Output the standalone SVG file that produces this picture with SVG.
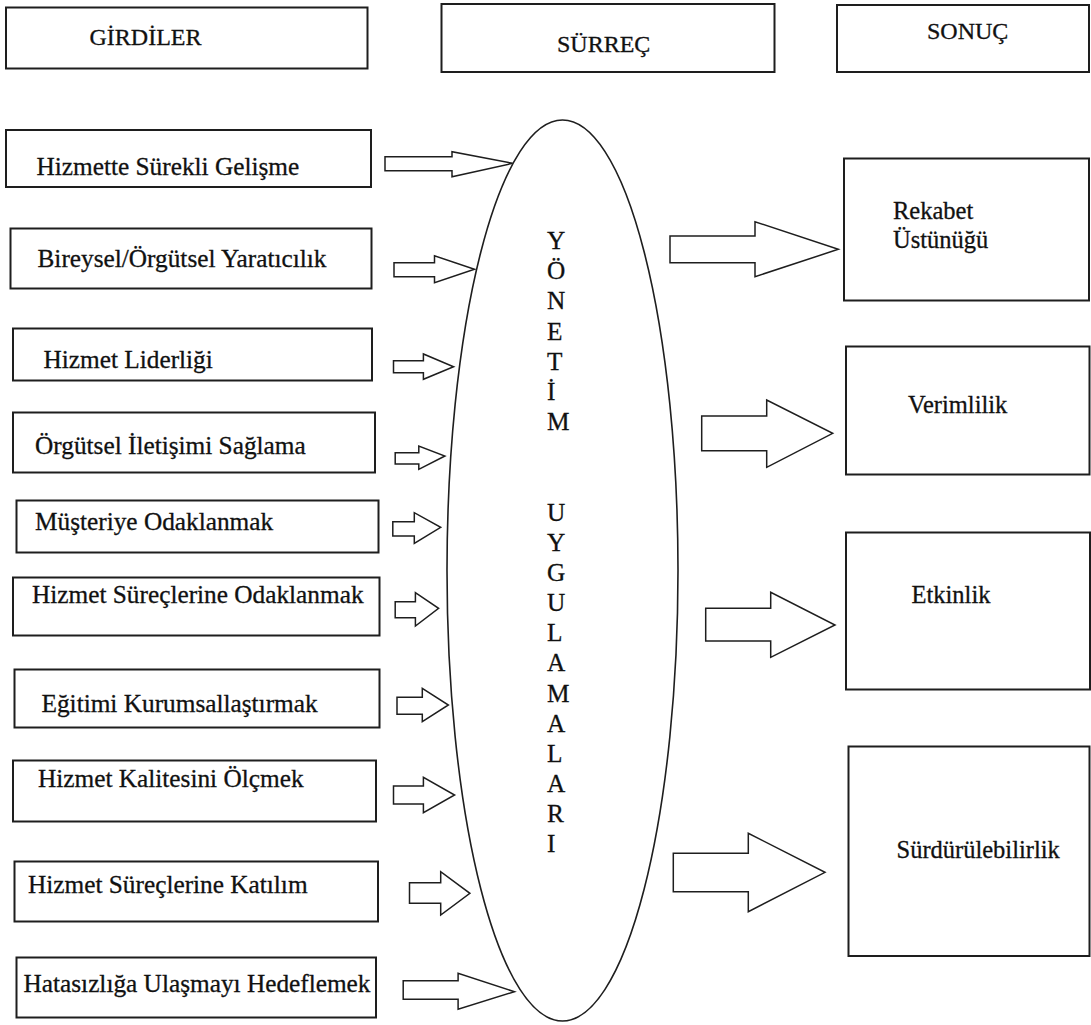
<svg xmlns="http://www.w3.org/2000/svg" width="1091" height="1025" viewBox="0 0 1091 1025">
  <style>
    .box { fill: #ffffff; stroke: #1e1e1e; stroke-width: 2; }
    text { font-family: 'Liberation Serif', 'Times New Roman', serif; fill: #111111; stroke: #111111; stroke-width: 0.3; }
    .lbl { font-size: 25.3px; }
    .hdr { font-size: 24px; }
    .out { font-size: 24.5px; }
    .arrow { fill: #ffffff; stroke: #1e1e1e; stroke-width: 1.5; stroke-linejoin: miter; }
    .core { fill: #ffffff; stroke: #1e1e1e; stroke-width: 1.6; }
  </style>
  <rect width="1091" height="1025" fill="#ffffff"/>

  <!-- column headers -->
  <g id="hdr-girdiler"><rect class="box" x="6" y="7.5" width="361.5" height="61"/><text class="hdr" x="89.5" y="45">GİRDİLER</text></g>
  <g id="hdr-surrec"><rect class="box" x="441.5" y="4" width="333" height="68"/><text class="hdr" x="557" y="52">SÜRREÇ</text></g>
  <g id="hdr-sonuc"><rect class="box" x="837" y="5" width="252" height="67"/><text class="hdr" x="927" y="38.5">SONUÇ</text></g>

  <!-- central process ellipse with vertical caption -->
  <g id="process">
    <ellipse class="core" cx="562.5" cy="570.5" rx="115.5" ry="450.5"/>
    <text class="lbl" font-size="25">
      <tspan x="547" y="249">Y</tspan>
      <tspan x="547" dy="30.17">Ö</tspan>
      <tspan x="547" dy="30.17">N</tspan>
      <tspan x="547" dy="30.17">E</tspan>
      <tspan x="547" dy="30.17">T</tspan>
      <tspan x="547" dy="30.17">İ</tspan>
      <tspan x="547" dy="30.17">M</tspan>
      <tspan x="547" dy="90.51">U</tspan>
      <tspan x="547" dy="30.17">Y</tspan>
      <tspan x="547" dy="30.17">G</tspan>
      <tspan x="547" dy="30.17">U</tspan>
      <tspan x="547" dy="30.17">L</tspan>
      <tspan x="547" dy="30.17">A</tspan>
      <tspan x="547" dy="30.17">M</tspan>
      <tspan x="547" dy="30.17">A</tspan>
      <tspan x="547" dy="30.17">L</tspan>
      <tspan x="547" dy="30.17">A</tspan>
      <tspan x="547" dy="30.17">R</tspan>
      <tspan x="547" dy="30.17">I</tspan>
    </text>
  </g>

  <!-- inputs -->
  <g id="in-1"><rect class="box" x="6" y="130" width="365" height="57"/><text class="lbl" x="36.5" y="175">Hizmette Sürekli Gelişme</text></g>
  <g id="in-2"><rect class="box" x="10.5" y="228.5" width="361" height="60"/><text class="lbl" x="37.5" y="267">Bireysel/Örgütsel Yaratıcılık</text></g>
  <g id="in-3"><rect class="box" x="13" y="328.5" width="359" height="52"/><text class="lbl" x="43.5" y="368">Hizmet Liderliği</text></g>
  <g id="in-4"><rect class="box" x="13" y="412.5" width="362" height="60"/><text class="lbl" x="35" y="454">Örgütsel İletişimi Sağlama</text></g>
  <g id="in-5"><rect class="box" x="16.5" y="500.5" width="362" height="52"/><text class="lbl" x="35" y="530">Müşteriye Odaklanmak</text></g>
  <g id="in-6"><rect class="box" x="13" y="577.5" width="366.5" height="58"/><text class="lbl" x="32" y="603">Hizmet Süreçlerine Odaklanmak</text></g>
  <g id="in-7"><rect class="box" x="14.5" y="669.5" width="365" height="58"/><text class="lbl" x="41.5" y="711.5">Eğitimi Kurumsallaştırmak</text></g>
  <g id="in-8"><rect class="box" x="13" y="760.5" width="363" height="61"/><text class="lbl" x="38" y="787">Hizmet Kalitesini Ölçmek</text></g>
  <g id="in-9"><rect class="box" x="14.5" y="861.5" width="363.5" height="60"/><text class="lbl" x="28" y="893">Hizmet Süreçlerine Katılım</text></g>
  <g id="in-10"><rect class="box" x="16.5" y="957.5" width="359.5" height="60"/><text class="lbl" x="23.5" y="991.5">Hatasızlığa Ulaşmayı Hedeflemek</text></g>

  <!-- outputs -->
  <g id="out-1"><rect class="box" x="844" y="158.5" width="245" height="142"/><text class="out" x="893" y="219">Rekabet</text><text class="out" x="893" y="248">Üstünüğü</text></g>
  <g id="out-2"><rect class="box" x="846" y="346.5" width="243.5" height="128"/><text class="out" x="908" y="413">Verimlilik</text></g>
  <g id="out-3"><rect class="box" x="846" y="532.5" width="244" height="157"/><text class="out" x="911.5" y="603">Etkinlik</text></g>
  <g id="out-4"><rect class="box" x="848.5" y="746.5" width="241" height="209.5"/><text class="out" x="896.5" y="858">Sürdürülebilirlik</text></g>

  <!-- block arrows -->
  <g id="connectors">
    <polygon class="arrow" points="385,156.7 452,156.7 452,151.7 512.7,163.3 452,176.7 452,170.7 385,170.7"/>
    <polygon class="arrow" points="394,262.7 434.5,262.7 434.5,255.7 474.5,269.3 434.5,282.7 434.5,276.7 394,276.7"/>
    <polygon class="arrow" points="393.5,360.7 423.4,360.7 423.4,354 453.6,366.7 423.4,379.3 423.4,372.7 393.5,372.7"/>
    <polygon class="arrow" points="395.2,452.7 418.8,452.7 418.8,446 444.9,456 418.8,469.3 418.8,464 395.2,464"/>
    <polygon class="arrow" points="392.8,521.7 414.3,521.7 414.3,512.7 440.7,527.3 414.3,543.3 414.3,536 392.8,536"/>
    <polygon class="arrow" points="395.2,601.7 415.4,601.7 415.4,592.7 438.6,608.3 415.4,626 415.4,617.7 395.2,617.7"/>
    <polygon class="arrow" points="397,697.3 422.3,697.3 422.3,688.3 448.4,705 422.3,721.7 422.3,714.3 397,714.3"/>
    <polygon class="arrow" points="393.5,786 423.4,786 423.4,777.3 454.6,795 423.4,812.7 423.4,804 393.5,804"/>
    <polygon class="arrow" points="409.5,882.7 440.7,882.7 440.7,871.7 469.9,893.3 440.7,915 440.7,903.3 409.5,903.3"/>
    <polygon class="arrow" points="403.2,980.7 458.1,980.7 458.1,973.3 514.4,991.7 458.1,1009.3 458.1,999.3 403.2,999.3"/>

    <polygon class="arrow" points="670,236 755,236 755,221.7 838.3,249.3 755,276.7 755,262.7 670,262.7"/>
    <polygon class="arrow" points="701.7,416 766.7,416 766.7,400 832.7,433.3 766.7,467.3 766.7,450.7 701.7,450.7"/>
    <polygon class="arrow" points="705.7,608.3 770.7,608.3 770.7,592.3 835,625 770.7,657.3 770.7,641 705.7,641"/>
    <polygon class="arrow" points="673.3,853.3 748.3,853.3 748.3,833.3 825,872.3 748.3,911.7 748.3,891.7 673.3,891.7"/>
  </g>
</svg>
